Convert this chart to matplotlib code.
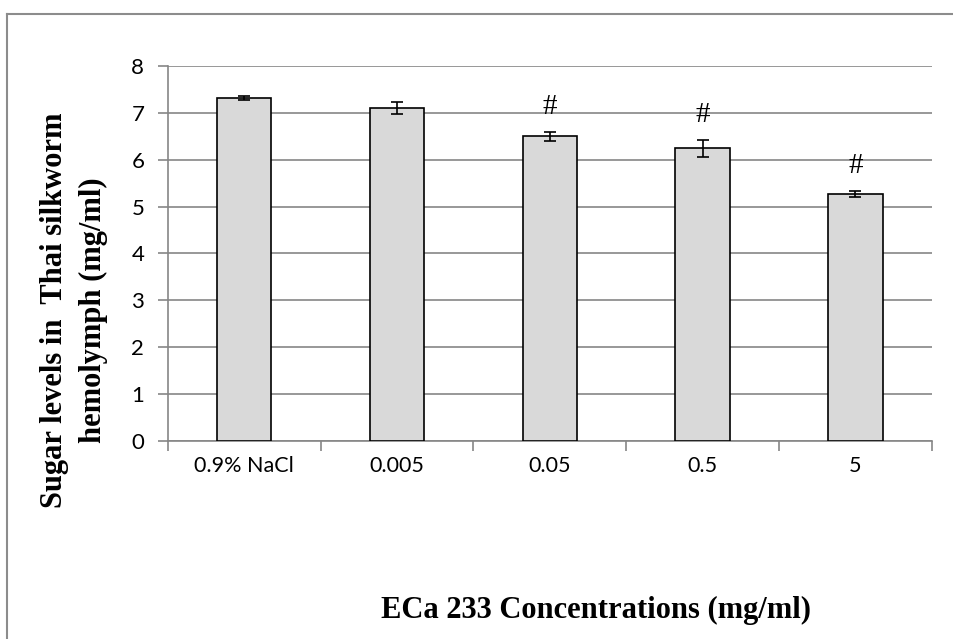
import numpy as np
import matplotlib.pyplot as plt
from matplotlib.lines import Line2D

categories = ["0.9% NaCl", "0.005", "0.05", "0.5", "5"]
sugar_mean = [7.32, 7.10, 6.50, 6.24, 5.27]
sugar_err = [0.04, 0.13, 0.10, 0.19, 0.06]
signif = ["", "", "#", "#", "#"]

grid_c = "#868686"
serif = ["Liberation Serif", "DejaVu Serif"]
sans = ["Lato", "DejaVu Sans"]

fig = plt.figure(figsize=(9.54, 6.39), dpi=100)
ax = fig.add_axes([0.176, 0.31, 0.8007, 0.5867])

x = np.arange(len(categories))
ax.bar(x, sugar_mean, width=0.356, color="#d9d9d9", edgecolor="black",
       linewidth=1.2, zorder=3)
ax.errorbar(x, sugar_mean, yerr=sugar_err, fmt="none", ecolor="black",
            elinewidth=1.2, capsize=4, capthick=1.2, zorder=4)

for xi, m, e, s in zip(x, sugar_mean, sugar_err, signif):
    if s:
        ax.annotate(s, (xi, m + e), xytext=(0, 18), textcoords="offset points",
                    ha="center", va="center", fontsize=21, family=serif, zorder=5)

ax.set_xlim(-0.5, len(categories) - 0.5)
ax.set_ylim(0, 8)
ax.set_yticks(range(0, 9))
ax.yaxis.grid(True, color=grid_c, linewidth=1.2, zorder=0)
ax.set_axisbelow(True)

# category labels between boundary ticks
ax.set_xticks(np.arange(-0.5, len(categories)), labels=[""] * (len(categories) + 1))
ax.set_xticks(x, labels=categories, minor=True)
ax.tick_params(axis="x", which="major", direction="out", length=7, color=grid_c, width=1.2)
ax.tick_params(axis="x", which="minor", length=0, pad=11, labelsize=15.5)
ax.tick_params(axis="y", direction="out", length=7, color=grid_c, width=1.2,
               labelsize=16, pad=10)
for lab in ax.get_xticklabels(minor=True) + ax.get_yticklabels():
    lab.set_family(sans)

for side in ["top", "right"]:
    ax.spines[side].set_visible(False)
for side in ["left", "bottom"]:
    ax.spines[side].set_color(grid_c)
    ax.spines[side].set_linewidth(1.2)

fig.text(0.078, 0.515, "Sugar levels in  Thai silkworm\nhemolymph (mg/ml)",
         rotation=90, ha="center", va="center", fontsize=22, fontweight="bold",
         family=serif, linespacing=1.45)
fig.text(0.625, 0.045, "ECa 233 Concentrations (mg/ml)", ha="center", va="center",
         fontsize=22, fontweight="bold", family=serif)

# outer chart frame (only top and left edges visible)
fig.add_artist(Line2D([0.007, 1.0], [0.978, 0.978], color="#8c8c8c", linewidth=1.5))
fig.add_artist(Line2D([0.007, 0.007], [0.0, 0.978], color="#8c8c8c", linewidth=1.5))

fig.savefig("out.png", dpi=100)
